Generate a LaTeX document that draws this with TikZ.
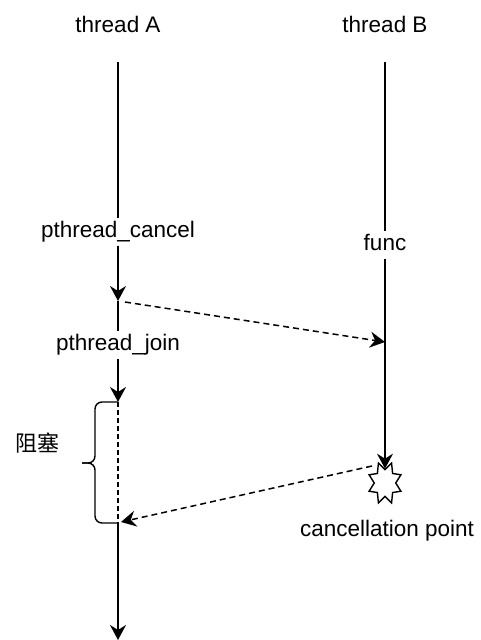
\documentclass[tikz,border=0pt]{standalone}
\usepackage{fontspec}
\setmainfont{Liberation Sans}
\newfontfamily\cjk{Noto Sans CJK SC}
\usetikzlibrary{arrows.meta,shapes.geometric}
\begin{document}
\begin{tikzpicture}[x=1pt,y=-1pt,
  lbl/.style={font=\fontsize{22.5}{26}\selectfont, text height=16pt, text depth=5pt, inner sep=3pt},
  life/.style={line width=1.7pt},
  tip/.style={-{Stealth[length=15pt,width=16pt,inset=5pt]}},
  msg/.style={line width=1.5pt, dash pattern=on 6pt off 4pt}
]
\useasboundingbox (0,0) rectangle (481,640);

% thread headers
\node[lbl] (ta) at (118,27) {thread A};
\node[lbl] (tb) at (385,27) {thread B};

% thread A timeline
\coordinate (a0) at (118,62);
\node[lbl] (cancel) at (118,232) {pthread\_cancel};
\coordinate (a1) at (118,301);
\node[lbl] (join) at (118,345) {pthread\_join};
\coordinate (a2) at (118,402);
\coordinate (a3) at (118,523);
\coordinate (a4) at (118,640);

\draw[life] (a0) -- (cancel);
\draw[life,tip] (cancel) -- (a1);
\draw[life] (a1) -- (join);
\draw[life,tip] (join) -- (a2);
\draw[line width=1.5pt, dash pattern=on 5pt off 3pt] (a2) -- (a3);
\draw[life,tip] (a3) -- (a4);

% blocked interval brace
\draw[line width=1.4pt, rounded corners=7pt] (a2) -| (95,463) -- (82,463);
\draw[line width=1.4pt, rounded corners=7pt] (82,463) -- (95,463) |- (a3);
\node[font=\cjk\fontsize{22}{26}\selectfont, inner sep=0pt] (blk) at (38,443) {阻塞};

% thread B timeline
\coordinate (b0) at (385,62);
\node[lbl] (func) at (385,245) {func};
\coordinate (b1) at (385,342);
\begin{scope}[shift={(385,483)}, xscale=0.8]
  \node[star, star points=8, star point ratio=1.6, minimum size=43pt,
        inner sep=0pt, shape border rotate=22.5, draw, line width=1.4pt,
        transform shape] (cp) at (0,0) {};
\end{scope}
\node[lbl] (cpl) at (387,531) {cancellation point};

\draw[life] (b0) -- (func);
\draw[life,tip] (func) -- (cp);

% cancel request and return of the join
\coordinate (s1) at (125,302);
\coordinate (s2) at (372,466);
\coordinate (e2) at (121,522);
\draw[msg,tip] (s1) -- (b1);
\draw[msg,tip] (s2) -- (e2);
\end{tikzpicture}
\end{document}
